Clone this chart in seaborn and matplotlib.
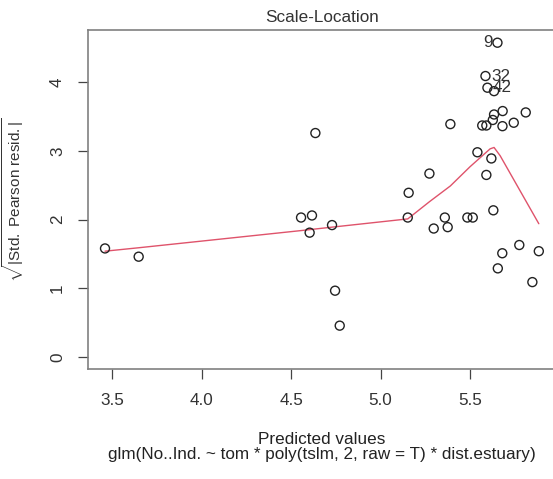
import numpy as np
import pandas as pd
import matplotlib as mpl
mpl.use('Agg')
import matplotlib.pyplot as plt
import seaborn as sns

# values
predicted = [3.461, 3.649, 4.556, 4.617, 4.604, 4.729, 4.746, 4.772, 4.636,
             5.157, 5.152, 5.273, 5.390, 5.297, 5.359, 5.375, 5.485, 5.515,
             5.653, 5.586, 5.597, 5.634, 5.568, 5.591, 5.634, 5.627, 5.682,
             5.681, 5.744, 5.811, 5.541, 5.619, 5.591, 5.630, 5.680, 5.775,
             5.884, 5.655, 5.848]
sqrt_resid = [1.58, 1.46, 2.03, 2.06, 1.81, 1.92, 0.965, 0.456, 3.26,
              2.39, 2.03, 2.67, 3.39, 1.87, 2.03, 1.89, 2.03, 2.03,
              4.575, 4.09, 3.92, 3.87, 3.37, 3.37, 3.53, 3.45, 3.58,
              3.36, 3.41, 3.56, 2.98, 2.89, 2.65, 2.135, 1.51, 1.63,
              1.54, 1.29, 1.09]

smooth_x = [3.461, 3.649, 4.556, 4.729, 5.152, 5.273, 5.390, 5.500, 5.612,
            5.634, 5.668, 5.884]
smooth_y = [1.54, 1.59, 1.84, 1.89, 2.01, 2.26, 2.49, 2.77, 3.03,
            3.05, 2.93, 1.94]

# labelled points: (label, index into the arrays above, side)
labelled = [('9', 18, 'left'), ('32', 19, 'right'), ('42', 20, 'right')]

x_ticks = [3.5, 4.0, 4.5, 5.0, 5.5]
y_ticks = [0, 1, 2, 3, 4]

title = 'Scale-Location'
x_label = 'Predicted values\nglm(No..Ind. ~ tom * poly(tslm, 2, raw = T) * dist.estuary)'
y_label = r'$\sqrt{|\mathrm{Std.\ Pearson\ resid.}|}$'


def main():
    sns.set_style('white')
    plt.rcParams['font.family'] = ['Liberation Sans', 'DejaVu Sans']
    plt.rcParams['mathtext.fontset'] = 'custom'
    plt.rcParams['mathtext.rm'] = 'Liberation Sans'
    plt.rcParams['mathtext.it'] = 'Liberation Sans:italic'
    fs = 12.3

    fig = plt.figure(figsize=(5.53, 4.79), dpi=100)
    ax = fig.add_axes([88 / 553, 1 - 369 / 479, (556 - 88) / 553, (369 - 30) / 479])

    pts = pd.DataFrame({'pred': predicted, 'resid': sqrt_resid})
    smooth = pd.DataFrame({'x': smooth_x, 'y': smooth_y})

    sns.lineplot(data=smooth, x='x', y='y', ax=ax, color='#DF536B',
                 linewidth=1.0, sort=True, zorder=2)
    sns.scatterplot(data=pts, x='pred', y='resid', ax=ax, s=42,
                    facecolor='none', edgecolor='#222222', linewidth=1.0,
                    zorder=3)

    for lab, i, side in labelled:
        off = -3.3 if side == 'left' else 4.0
        ax.annotate(lab, (predicted[i], sqrt_resid[i]), xytext=(off, 0),
                    textcoords='offset points', fontsize=fs, color='#333333',
                    ha='right' if side == 'left' else 'left', va='center')

    ax.set_xlim(3.366, 5.98)
    ax.set_ylim(-0.175, 4.76)
    ax.set_xticks(x_ticks)
    ax.set_xticklabels(['3.5', '4.0', '4.5', '5.0', '5.5'])
    ax.set_yticks(y_ticks)
    ax.set_yticklabels([str(v) for v in y_ticks], rotation=90, va='center')

    ax.tick_params(axis='both', which='major', direction='out', length=7.5,
                   width=0.9, color='#444444', labelsize=fs,
                   labelcolor='#333333', bottom=True, left=True)
    ax.tick_params(axis='x', pad=10)
    ax.tick_params(axis='y', pad=9)

    for sp in ax.spines.values():
        sp.set_color('#808080')
        sp.set_linewidth(1.2)

    ax.set_title(title, fontsize=fs, color='#333333', pad=6)
    ax.set_xlabel(x_label, fontsize=fs, color='#222222', linespacing=1.0,
                  labelpad=17)
    ax.set_ylabel(y_label, fontsize=11, color='#333333', labelpad=17)

    fig.savefig('out.png', dpi=100)


if __name__ == '__main__':
    main()
